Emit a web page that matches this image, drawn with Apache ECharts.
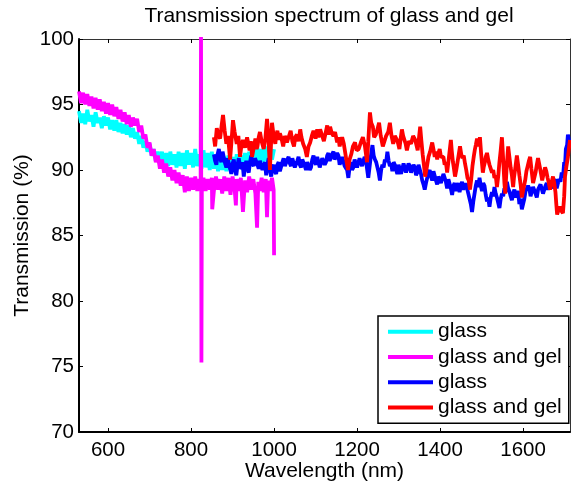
<!DOCTYPE html>
<html>
<head>
<meta charset="utf-8">
<script src="https://cdn.jsdelivr.net/npm/echarts@6/dist/echarts.min.js"></script>
<style>html,body{margin:0;padding:0;background:#fff}#c{width:571px;height:485px}</style>
</head>
<body>
<div id="c"></div>
<script>
const xTicks = [600, 800, 1000, 1200, 1400, 1600];
const seriesNames = ['glass', 'glass and gel', 'glass', 'glass and gel'];
const seriesColors = ['#00FFFF', '#FF00FF', '#0000FF', '#FF0000'];

const glassVis = [[530,94.5],[535,93.6],[540,94.3],[545,93.5],[550,94.6],[555,93.7],[560,94.2],[565,93.3],[570,94.4],[575,93.6],[580,94.0],[585,93.2],[590,94.1],[595,93.4],[600,94.0],[605,93.1],[610,93.8],[615,93.0],[620,93.8],[625,92.9],[630,93.6],[635,92.8],[640,93.5],[645,92.7],[650,93.4],[655,92.5],[660,93.2],[665,92.4],[670,92.9],[675,92.0],[680,92.6],[685,91.7],[690,92.2],[695,91.4],[700,92.0],[705,91.1],[710,91.6],[715,90.7],[720,91.4],[725,90.4],[730,91.4],[735,90.3],[740,91.3],[745,90.3],[750,91.4],[755,90.4],[760,91.2],[765,90.2],[770,91.4],[775,90.3],[780,91.3],[785,90.1],[790,91.5],[795,90.4],[800,91.3],[805,90.2],[810,91.6],[815,90.3],[820,91.2],[825,90.1],[830,91.5],[835,90.2],[840,91.3],[845,90.0],[850,91.4],[855,90.1],[860,91.2],[865,89.9],[870,91.1],[875,90.0],[880,91.0],[885,89.9],[890,91.1],[895,90.0],[900,91.0],[905,89.9],[910,91.2],[915,90.1],[920,91.1],[925,90.0],[930,91.3],[935,90.2],[940,91.4],[945,90.3],[950,91.6],[955,90.4],[960,91.7],[965,90.5],[970,91.6],[975,90.6],[980,91.8],[985,90.7],[990,91.9],[995,90.8],[1000,91.6]];

const gelVis = [[530,96.0],[535,95.1],[540,95.9],[545,95.0],[550,95.8],[555,94.9],[560,95.6],[565,94.7],[570,95.5],[575,94.6],[580,95.4],[585,94.5],[590,95.2],[595,94.3],[600,95.1],[605,94.2],[610,95.0],[615,94.1],[620,94.8],[625,93.9],[630,94.6],[635,93.7],[640,94.4],[645,93.5],[650,94.2],[655,93.3],[660,94.0],[665,93.4],[670,93.9],[675,92.9],[680,93.4],[685,92.4],[690,92.7],[695,91.7],[700,92.1],[705,91.1],[710,91.6],[715,90.6],[720,91.1],[725,90.1],[730,90.8],[735,89.8],[740,90.5],[745,89.5],[750,90.2],[755,89.2],[760,90.0],[765,89.0],[770,89.8],[775,88.8],[780,89.6],[785,88.3],[790,89.5],[795,88.4],[800,89.4],[805,88.5],[810,89.5],[815,88.4],[820,89.3],[823,88.6],[824,101],[825,75.3],[826,88.8],[830,89.4],[835,88.4],[840,89.3],[845,88.5],[850,89.4],[851,87.0],[855,88.4],[860,89.5],[865,88.5],[870,89.3],[875,88.2],[880,89.5],[885,88.4],[890,89.4],[895,88.1],[900,89.5],[905,88.5],[908,87.3],[910,89.3],[915,88.4],[920,89.4],[925,86.8],[930,89.2],[935,88.3],[940,89.5],[945,88.5],[950,89.3],[955,88.2],[959,85.6],[962,89.1],[965,88.4],[970,89.4],[975,88.3],[980,89.3],[983,86.4],[986,89.2],[990,88.4],[995,89.4],[999,88.5],[1000,83.5]];

const glassIR = [[855,91.2],[858,90.7],[861,90.4],[864,91.2],[867,91.6],[870,90.9],[873,90.6],[876,91.4],[879,91.3],[882,90.5],[885,90.2],[888,90.9],[891,91.0],[894,90.1],[897,89.7],[900,90.5],[903,90.8],[906,90.0],[909,89.6],[912,90.4],[915,90.9],[918,90.3],[921,90.1],[924,90.6],[927,89.5],[930,90.3],[933,90.7],[936,90.1],[939,89.8],[942,90.6],[945,91.1],[948,90.5],[951,90.3],[954,90.9],[957,91.0],[960,90.4],[963,90.1],[966,90.7],[969,90.8],[972,90.0],[975,90.3],[978,90.6],[981,89.6],[984,90.4],[987,90.9],[990,90.0],[993,89.5],[996,90.2],[999,90.4],[1002,89.9],[1005,89.7],[1008,90.4],[1011,90.6],[1014,89.9],[1017,90.0],[1020,90.6],[1023,90.9],[1026,90.3],[1029,90.2],[1032,90.8],[1035,91.0],[1038,90.5],[1041,90.3],[1044,90.9],[1047,90.8],[1050,90.2],[1053,90.1],[1056,90.7],[1059,91.0],[1062,90.4],[1065,90.2],[1068,90.8],[1071,90.9],[1074,90.3],[1077,90.0],[1080,90.6],[1083,90.7],[1086,90.0],[1089,90.2],[1092,90.8],[1095,91.1],[1098,90.6],[1101,90.4],[1104,91.0],[1107,90.9],[1110,90.2],[1113,90.3],[1116,90.9],[1119,91.0],[1122,90.4],[1125,90.6],[1128,91.1],[1131,91.3],[1134,90.7],[1137,90.8],[1140,91.2],[1143,91.4],[1146,90.8],[1149,90.7],[1152,91.3],[1155,91.1],[1158,90.4],[1161,90.5],[1164,91.0],[1167,90.9],[1170,90.3],[1173,90.2],[1176,90.0],[1179,89.4],[1182,90.2],[1185,90.6],[1188,90.0],[1191,90.2],[1194,90.8],[1197,90.9],[1200,90.2],[1203,90.3],[1206,90.9],[1209,91.0],[1212,90.3],[1215,90.4],[1218,91.0],[1221,90.8],[1224,90.1],[1227,89.4],[1230,90.2],[1233,91.0],[1237,91.9],[1240,91.1],[1243,90.8],[1246,90.6],[1249,90.2],[1252,89.8],[1255,89.2],[1258,90.0],[1261,90.4],[1264,90.2],[1267,90.8],[1270,90.6],[1273,91.4],[1276,90.7],[1279,90.3],[1282,90.5],[1285,89.9],[1288,90.6],[1291,90.4],[1294,90.0],[1297,89.7],[1300,90.4],[1303,90.3],[1306,89.7],[1309,89.8],[1312,90.5],[1315,90.5],[1318,89.8],[1321,89.9],[1324,90.5],[1327,90.3],[1330,89.8],[1333,89.7],[1336,90.4],[1339,90.2],[1342,89.6],[1345,89.8],[1348,90.4],[1351,90.3],[1354,89.7],[1357,89.2],[1360,88.9],[1363,88.5],[1366,89.0],[1369,89.4],[1372,89.8],[1375,90.0],[1378,89.5],[1381,89.2],[1384,89.9],[1387,89.8],[1390,89.2],[1393,88.9],[1396,89.5],[1399,89.6],[1402,89.0],[1405,89.1],[1408,89.7],[1411,89.8],[1414,89.1],[1417,88.6],[1420,89.3],[1423,89.2],[1426,88.6],[1429,88.1],[1432,88.8],[1435,89.0],[1438,88.4],[1441,88.5],[1444,89.0],[1447,88.3],[1450,88.8],[1453,89.1],[1456,88.5],[1459,88.4],[1462,89.0],[1465,88.9],[1468,88.2],[1471,87.8],[1474,87.4],[1477,86.8],[1480,87.6],[1483,88.2],[1486,88.8],[1489,89.2],[1492,88.7],[1495,89.4],[1498,88.8],[1501,88.4],[1504,89.0],[1507,88.8],[1510,88.1],[1513,87.6],[1516,87.9],[1519,87.2],[1522,87.9],[1525,88.3],[1528,88.0],[1531,88.7],[1534,88.2],[1537,87.9],[1540,87.5],[1543,87.1],[1546,87.8],[1549,88.2],[1552,88.0],[1555,88.6],[1558,88.3],[1561,89.1],[1564,88.6],[1567,88.4],[1570,88.0],[1573,87.7],[1576,88.2],[1579,88.5],[1582,87.9],[1585,88.0],[1588,88.4],[1591,87.4],[1594,87.8],[1597,87.0],[1600,87.4],[1603,87.8],[1606,88.4],[1609,88.3],[1612,88.8],[1615,88.6],[1618,88.0],[1621,88.1],[1624,88.7],[1627,88.6],[1630,88.2],[1633,87.9],[1636,88.5],[1639,88.4],[1642,88.9],[1645,88.8],[1648,88.2],[1651,88.5],[1654,88.8],[1657,89.0],[1660,88.5],[1663,88.4],[1666,89.1],[1669,88.9],[1672,88.6],[1675,89.1],[1678,89.3],[1681,88.6],[1684,89.0],[1687,89.3],[1690,89.1],[1693,89.8],[1696,89.4],[1699,90.6],[1701,90.3],[1703,91.6],[1706,91.9],[1708,92.7],[1711,92.2],[1713,92.0]];

const gelIR = [[855,92.5],[858,91.8],[862,93.2],[866,92.6],[870,92.4],[874,93.5],[877,94.2],[881,93.0],[885,92.0],[889,92.6],[894,90.8],[897,92.0],[901,93.8],[905,92.9],[910,92.0],[914,92.6],[918,91.0],[921,91.8],[925,92.3],[930,91.7],[935,92.5],[938,92.0],[941,91.5],[944,92.2],[947,91.0],[951,91.7],[955,92.4],[958,91.6],[960,91.8],[963,92.5],[966,92.9],[970,92.2],[975,91.6],[979,92.4],[983,93.9],[986,92.8],[990,90.0],[992,91.5],[995,93.6],[999,92.6],[1003,92.0],[1005,92.6],[1008,93.0],[1011,92.3],[1014,92.8],[1018,92.4],[1022,91.8],[1026,92.6],[1031,92.1],[1035,92.5],[1040,93.0],[1044,92.2],[1048,91.8],[1051,92.5],[1055,92.7],[1059,92.2],[1063,93.1],[1066,92.5],[1070,92.0],[1075,91.6],[1079,91.0],[1083,91.8],[1087,92.1],[1091,92.6],[1095,93.0],[1100,92.4],[1104,93.1],[1107,92.5],[1111,93.1],[1116,92.6],[1120,92.2],[1124,92.8],[1128,93.4],[1131,92.7],[1135,93.3],[1139,92.8],[1143,92.6],[1147,92.9],[1152,92.1],[1155,92.5],[1158,91.8],[1161,92.2],[1164,92.5],[1168,92.0],[1171,91.4],[1174,90.8],[1178,90.0],[1182,90.8],[1186,91.2],[1190,91.8],[1195,92.1],[1199,91.5],[1204,91.6],[1209,92.1],[1214,92.5],[1219,91.8],[1224,90.6],[1227,92.2],[1231,94.4],[1234,93.6],[1238,93.3],[1241,92.5],[1245,92.7],[1249,93.1],[1253,93.6],[1257,92.6],[1262,91.8],[1266,92.2],[1270,92.6],[1275,92.9],[1279,93.6],[1283,92.6],[1287,92.0],[1291,92.6],[1296,92.3],[1299,92.0],[1302,91.6],[1305,92.4],[1308,93.1],[1311,92.6],[1314,92.3],[1317,92.0],[1320,91.5],[1325,92.2],[1330,92.0],[1335,92.6],[1340,92.3],[1343,91.9],[1346,91.5],[1349,92.4],[1352,93.3],[1355,92.2],[1358,91.2],[1361,90.4],[1364,89.5],[1368,90.2],[1372,91.0],[1376,91.4],[1381,92.1],[1384,91.6],[1387,91.0],[1390,91.4],[1393,90.8],[1396,91.3],[1399,91.6],[1402,91.0],[1405,91.1],[1408,91.0],[1411,90.4],[1414,90.6],[1417,89.8],[1421,90.9],[1426,92.3],[1428,91.5],[1431,90.6],[1433,90.2],[1436,89.5],[1439,90.0],[1442,90.6],[1445,91.2],[1448,91.8],[1451,91.2],[1454,90.9],[1457,91.1],[1460,90.5],[1463,90.0],[1466,89.4],[1469,89.2],[1472,88.5],[1475,89.3],[1478,90.3],[1481,91.0],[1484,91.6],[1486,91.9],[1489,92.4],[1492,91.8],[1496,92.5],[1499,91.2],[1503,89.8],[1505,90.2],[1508,90.6],[1510,91.0],[1513,91.3],[1516,90.8],[1519,90.4],[1522,90.1],[1525,89.8],[1528,90.0],[1531,89.4],[1534,89.6],[1537,88.7],[1540,89.5],[1543,90.6],[1546,91.5],[1549,92.5],[1551,91.4],[1553,90.2],[1555,89.0],[1557,88.2],[1560,90.0],[1564,91.8],[1567,91.0],[1570,90.2],[1573,89.6],[1576,88.7],[1578,89.4],[1581,90.1],[1583,90.6],[1585,91.1],[1588,90.4],[1591,89.6],[1594,88.9],[1597,87.9],[1601,88.6],[1605,89.2],[1608,89.9],[1611,90.3],[1614,90.7],[1617,91.0],[1620,90.1],[1624,89.0],[1627,89.4],[1630,89.8],[1633,90.4],[1636,90.9],[1641,90.1],[1646,89.2],[1650,89.8],[1653,90.2],[1656,89.9],[1659,89.4],[1662,89.0],[1665,88.5],[1669,89.1],[1672,89.5],[1675,89.0],[1678,88.3],[1680,87.4],[1682,86.6],[1686,87.0],[1689,87.2],[1692,86.9],[1696,86.7],[1699,88.0],[1701,89.5],[1704,90.2],[1708,91.0],[1711,91.8],[1713,92.3]];

const seriesData = [glassVis, gelVis, glassIR, gelIR];
// distinct legend keys (trailing space) so repeated names each get a legend entry
const legendKeys = ['glass', 'glass and gel', 'glass ', 'glass and gel '];

const chart = echarts.init(document.getElementById('c'), null, {renderer: 'canvas'});
const FONT = 'Liberation Sans, Arial, sans-serif';
const X_MIN = 530, X_MAX = 1713;

const option = {
  animation: false,
  backgroundColor: '#fff',
  textStyle: {fontFamily: FONT, color: '#000'},
  title: {
    text: 'Transmission spectrum of glass and gel',
    left: 324, top: 1, textAlign: 'center',
    textStyle: {fontFamily: FONT, fontSize: 21, fontWeight: 'normal', color: '#000'}
  },
  grid: {left: 79, right: 1, top: 39, bottom: 53, containLabel: false, outerBoundsMode: 'none'},
  legend: {
    orient: 'vertical', left: 378, top: 316,
    padding: [3, 7, 3, 10],
    itemWidth: 45, itemHeight: 4, itemGap: 0,
    icon: 'rect',
    backgroundColor: '#fff', borderColor: '#000', borderWidth: 1.5,
    data: legendKeys,
    formatter: n => n.trim(),
    textStyle: {fontFamily: FONT, fontSize: 21, color: '#000', lineHeight: 25.3}
  },
  xAxis: [{
    type: 'value', min: X_MIN, max: X_MAX, position: 'bottom',
    name: 'Wavelength (nm)', nameLocation: 'middle', nameGap: 29, nameMoveOverlap: false,
    nameTextStyle: {fontFamily: FONT, fontSize: 21, color: '#000'},
    axisLine: {show: true, onZero: false, lineStyle: {color: '#000', width: 2}},
    axisTick: {show: true, inside: true, length: 4, customValues: xTicks, lineStyle: {color: '#000', width: 1}},
    axisLabel: {show: true, customValues: xTicks, margin: 8, formatter: v => String(v), fontFamily: FONT, fontSize: 20.5, color: '#000'},
    splitLine: {show: false}
  }, {
    type: 'value', min: X_MIN, max: X_MAX, position: 'top',
    axisLine: {show: true, onZero: false, lineStyle: {color: '#333', width: 1}},
    axisTick: {show: true, inside: true, length: 4, customValues: xTicks, lineStyle: {color: '#000', width: 1}},
    axisLabel: {show: false}, splitLine: {show: false}
  }],
  yAxis: [{
    type: 'value', min: 70, max: 100, interval: 5, position: 'left',
    name: 'Transmission (%)', nameLocation: 'middle', nameGap: 46, nameMoveOverlap: false,
    nameTextStyle: {fontFamily: FONT, fontSize: 21, color: '#000'},
    axisLine: {show: true, onZero: false, lineStyle: {color: '#000', width: 2}},
    axisTick: {show: true, inside: true, length: 4, lineStyle: {color: '#000', width: 1}},
    axisLabel: {show: true, margin: 5, fontFamily: FONT, fontSize: 20.5, color: '#000'},
    splitLine: {show: false}
  }, {
    type: 'value', min: 70, max: 100, interval: 5, position: 'right',
    axisLine: {show: true, onZero: false, lineStyle: {color: '#333', width: 1}},
    axisTick: {show: true, inside: true, length: 4, lineStyle: {color: '#000', width: 1}},
    axisLabel: {show: false}, splitLine: {show: false}
  }],
  series: seriesData.map((d, i) => ({
    name: legendKeys[i],
    type: 'line',
    xAxisIndex: 0, yAxisIndex: 0,
    data: d,
    showSymbol: false,
    symbol: 'none',
    clip: true,
    color: seriesColors[i],
    lineStyle: {color: seriesColors[i], width: 3.8},
    emphasis: {disabled: true}
  }))
};
chart.setOption(option);
</script>
</body>
</html>
